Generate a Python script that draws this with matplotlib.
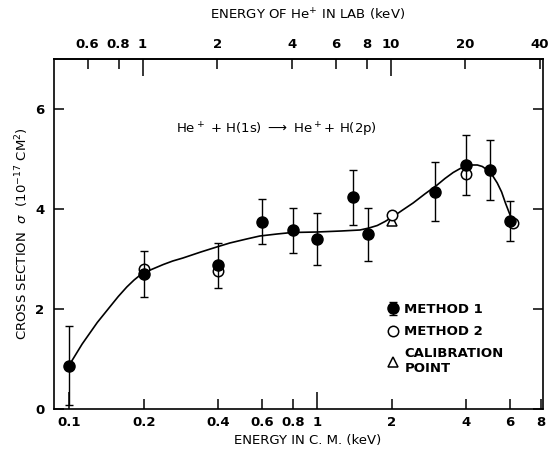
import matplotlib
matplotlib.use("Agg")
from matplotlib import pyplot as plt
from matplotlib.ticker import FixedLocator, FuncFormatter

# values: energy in c.m. (keV), cross section (1e-17 cm^2)
e_cm_m1 = [0.1, 0.2, 0.4, 0.6, 0.8, 1.0, 1.4, 1.6, 3.0, 4.0, 5.0, 6.0]
sigma_m1 = [0.87, 2.70, 2.88, 3.75, 3.58, 3.41, 4.23, 3.50, 4.35, 4.89, 4.78, 3.76]
err_m1 = [0.79, 0.45, 0.45, 0.45, 0.45, 0.52, 0.55, 0.53, 0.59, 0.60, 0.60, 0.40]

e_cm_m2 = [0.2, 0.4, 2.0, 4.0, 6.15]
sigma_m2 = [2.81, 2.77, 3.88, 4.71, 3.73]

e_cal = [2.0]
sigma_cal = [3.77]

# hand drawn smooth curve, points read along it
curve_e = [0.1, 0.113, 0.13, 0.146, 0.158, 0.171, 0.183, 0.196,
           0.215, 0.24, 0.262, 0.288, 0.34, 0.394, 0.445, 0.52, 0.588, 0.69, 0.792,
           1.0, 1.25, 1.49, 1.62, 1.75, 1.88, 2.03, 2.2, 2.44, 2.72, 3.05, 3.28,
           3.54, 3.78, 4.04, 4.23, 4.43, 4.64, 4.86, 5.1, 5.33, 5.55, 5.75, 5.95, 6.14]
curve_s = [0.87, 1.30, 1.73, 2.04, 2.25, 2.44, 2.58, 2.70,
           2.79, 2.89, 2.96, 3.02, 3.14, 3.24, 3.32, 3.40, 3.46, 3.50, 3.53,
           3.54, 3.56, 3.58, 3.62, 3.67, 3.75, 3.85, 3.97, 4.12, 4.30, 4.48, 4.61,
           4.73, 4.81, 4.86, 4.88, 4.88, 4.85, 4.78, 4.67, 4.52, 4.34, 4.12, 3.93, 3.76]

cm_ticks_major = [0.1, 1]
cm_ticks_minor = [0.2, 0.4, 0.6, 0.8, 2, 4, 6, 8]
lab_ticks_major = [1, 10]
lab_ticks_minor = [0.6, 0.8, 2, 4, 6, 8, 20, 40]
y_ticks = [0, 2, 4, 6]

LAB_PER_CM = 5.05

plt.rcParams['font.family'] = ['DejaVu Sans']

fig = plt.figure(figsize=(5.48, 4.57), dpi=100)
ax = fig.add_axes([54 / 548, 1 - 409 / 457, 489 / 548, 350 / 457])

ax.plot(curve_e, curve_s, color='black', lw=1.2, zorder=2)
cal = ax.plot(e_cal, sigma_cal, ls='none', marker='^', ms=7, mfc='white',
              mec='black', mew=1.1, zorder=3)[0]
m2 = ax.plot(e_cm_m2, sigma_m2, ls='none', marker='o', ms=7.5, mfc='white',
             mec='black', mew=1.1, zorder=4)[0]
m1 = ax.errorbar(e_cm_m1, sigma_m1, yerr=err_m1, fmt='o', color='black', ms=8,
                 elinewidth=1.0, capsize=3, capthick=1.0, zorder=5)

ax.set_xscale('log')
ax.set_xlim(0.087, 8.15)
ax.set_ylim(0, 7)

fmt = FuncFormatter(lambda v, p: f"{v:g}")
ax.xaxis.set_major_locator(FixedLocator(cm_ticks_major))
ax.xaxis.set_minor_locator(FixedLocator(cm_ticks_minor))
ax.xaxis.set_major_formatter(fmt)
ax.xaxis.set_minor_formatter(fmt)
ax.yaxis.set_major_locator(FixedLocator(y_ticks))
ax.yaxis.set_minor_locator(FixedLocator([]))

ax.tick_params(axis='x', which='both', direction='in', top=False, labelsize=9.5, pad=5)
ax.tick_params(axis='x', which='major', length=12, width=1.1)
ax.tick_params(axis='x', which='minor', length=7, width=1.1)
ax.tick_params(axis='y', which='major', direction='in', right=True, length=7,
               width=1.1, labelsize=9.5, pad=7)
for lab in ax.get_xticklabels(which='both') + ax.get_yticklabels():
    lab.set_fontweight('bold')

top = ax.secondary_xaxis('top', functions=(lambda x: x * LAB_PER_CM,
                                           lambda x: x / LAB_PER_CM))
top.xaxis.set_major_locator(FixedLocator(lab_ticks_major))
top.xaxis.set_minor_locator(FixedLocator(lab_ticks_minor))
top.xaxis.set_major_formatter(fmt)
top.xaxis.set_minor_formatter(fmt)
top.tick_params(which='both', direction='in', labelsize=9.5, pad=6)
top.tick_params(which='major', length=12, width=1.1)
top.tick_params(which='minor', length=7, width=1.1)
for lab in top.get_xticklabels(which='both'):
    lab.set_fontweight('bold')
top.spines['top'].set_linewidth(1.2)

for s in ax.spines.values():
    s.set_linewidth(1.2)

ax.text(0.454, 0.797, r"He$^+$ + H(1s) $\longrightarrow$ He$^+$+ H(2p)",
        transform=ax.transAxes, ha='center', va='center', fontsize=9.5)

leg = ax.legend([m1, m2, cal], ["METHOD 1", "METHOD 2", "CALIBRATION\nPOINT"],
                loc='upper left', bbox_to_anchor=(0.668, 0.318), frameon=False,
                handlelength=1.0, handletextpad=0.4, labelspacing=0.7,
                borderaxespad=0, prop={'size': 9.5, 'weight': 'bold'})

fig.text(0.562, 0.967, r"ENERGY OF He$^{+}$ IN LAB (keV)", ha='center', va='center',
         fontsize=9.5)
fig.text(0.562, 0.036, "ENERGY IN C. M. (keV)", ha='center', va='center', fontsize=9.5)
fig.text(0.04, 0.488, r"CROSS SECTION  $\sigma$  (10$^{-17}$ CM$^2$)", rotation=90,
         ha='center', va='center', fontsize=9.5)

fig.savefig("out.png", dpi=100)
